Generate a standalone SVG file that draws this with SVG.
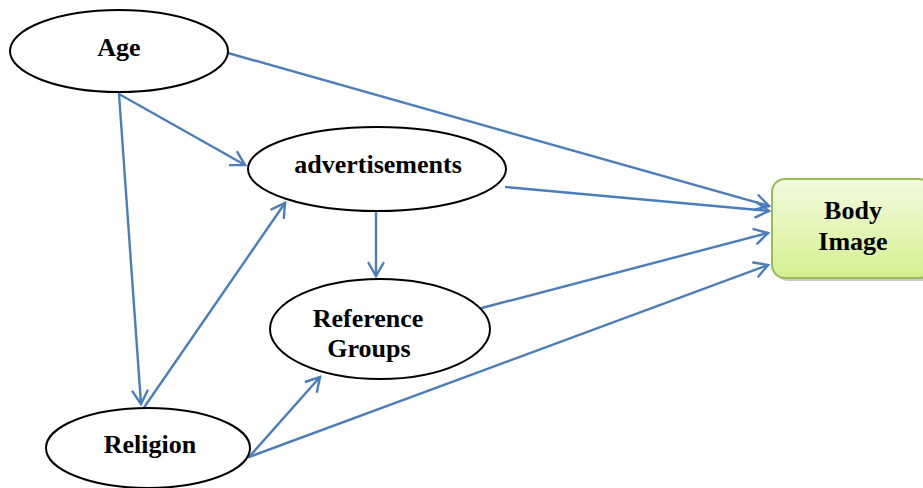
<svg xmlns="http://www.w3.org/2000/svg" width="923" height="488" viewBox="0 0 923 488">
<style>
.node ellipse{fill:#fff;stroke:#000;stroke-width:2}
.lbl{font-family:"Liberation Serif","Times New Roman",serif;font-weight:bold;font-size:26px;fill:#000;text-anchor:middle}
.conn line{stroke:#4a7ebb;stroke-width:2.4;stroke-linecap:round;fill:none;marker-end:url(#arr)}
</style>
<defs>
<marker id="arr" markerUnits="userSpaceOnUse" viewBox="-15 -9 17 18" markerWidth="17" markerHeight="18" refX="0" refY="0" orient="auto" overflow="visible">
<path d="M-13,-7.5 L0,0 L-13,7.5" fill="none" stroke="#4a7ebb" stroke-width="2.4" stroke-linecap="round" stroke-linejoin="miter"/>
</marker>
<linearGradient id="bg" x1="0" y1="0" x2="0" y2="1">
<stop offset="0" stop-color="#f2fadf"/>
<stop offset="1" stop-color="#d4f08f"/>
</linearGradient>
</defs>
<rect width="923" height="488" fill="#fff"/>
<g class="conn">
<line x1="228" y1="53" x2="769" y2="206"/>
<line x1="119" y1="94" x2="245" y2="165"/>
<line x1="119" y1="94" x2="141" y2="404"/>
<line x1="143" y1="409" x2="285" y2="203"/>
<line x1="506" y1="187" x2="769" y2="211"/>
<line x1="376" y1="212" x2="376" y2="276"/>
<line x1="478" y1="309" x2="768" y2="233"/>
<line x1="249" y1="457" x2="320" y2="377"/>
<line x1="249" y1="457" x2="768" y2="265"/>
</g>
<g id="age" class="node">
<ellipse cx="119" cy="51" rx="109" ry="41"/>
<text class="lbl" x="119" y="56">Age</text>
</g>
<g id="advertisements" class="node">
<ellipse cx="377" cy="169" rx="129" ry="42"/>
<text class="lbl" x="378" y="173">advertisements</text>
</g>
<g id="reference-groups" class="node">
<ellipse cx="380" cy="329" rx="110" ry="50"/>
<text class="lbl" x="368" y="327">Reference</text>
<text class="lbl" x="369" y="357">Groups</text>
</g>
<g id="religion" class="node">
<ellipse cx="148" cy="448" rx="102" ry="40"/>
<text class="lbl" x="150" y="453">Religion</text>
</g>
<g id="body-image">
<rect x="775" y="182" width="160" height="99" rx="13" fill="#a6a6a6" opacity="0.6"/>
<rect x="772" y="179" width="160" height="99" rx="13" fill="url(#bg)" stroke="#9bbb59" stroke-width="2"/>
<text class="lbl" x="853" y="219">Body</text>
<text class="lbl" x="853" y="250">Image</text>
</g>
</svg>
